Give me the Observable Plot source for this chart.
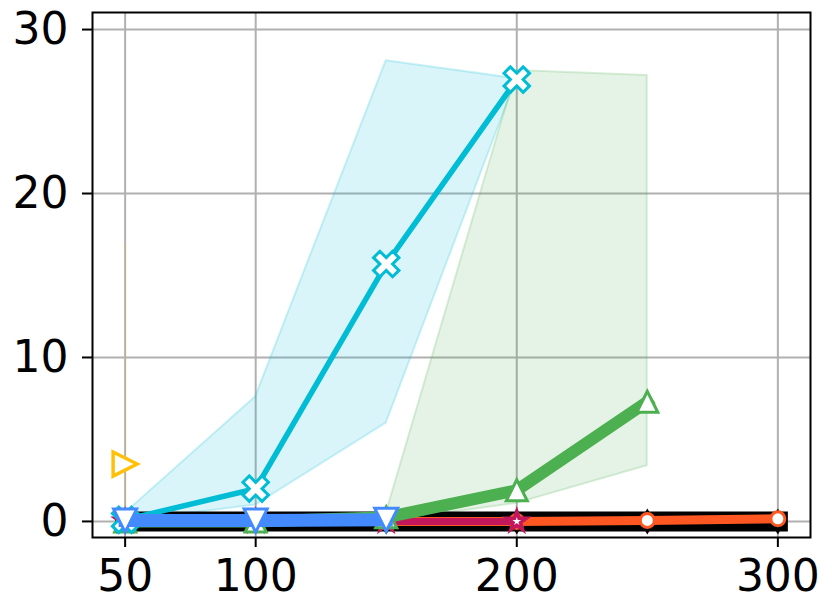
<!DOCTYPE html>
<html>
<head>
<meta charset="utf-8">
<script src="https://cdn.jsdelivr.net/npm/d3@7"></script>
<script src="https://cdn.jsdelivr.net/npm/@observablehq/plot@0.6"></script>
<style>
  html, body { margin: 0; padding: 0; background: #fff; }
  #chart svg { display: block; }
</style>
</head>
<body>
<div id="chart"></div>
<script>
// ---- data ----
const xTicks = [50, 100, 200, 300];
const yTicks = [0, 10, 20, 30];

const blackX = [50, 100, 150, 200, 250, 300];
const blackY = [0, 0, 0, 0, 0, 0];

const orangeX = [50, 100, 150, 200, 250, 300];
const orangeY = [0, 0, 0, 0, 0.06, 0.16];

const crimsonX = [50, 100, 150, 200];
const crimsonY = [0, 0, 0, 0];

const greenX = [50, 100, 150, 200, 250];
const greenY = [0, 0, 0.25, 1.9, 7.3];
const greenLo = [0, 0, 0, 1.1, 3.4];
const greenHi = [0.1, 0.1, 0.5, 27.5, 27.2];

const cyanX = [50, 100, 150, 200];
const cyanY = [0.1, 2.0, 15.7, 26.95];
const cyanLo = [0, 1.0, 6.0, 27.0];
const cyanHi = [0.5, 7.6, 28.1, 27.0];

const blueX = [50, 100, 150];
const blueY = [0.05, 0.05, 0.1];

const amberX = [50];
const amberY = [3.5];
const amberLo = [0];
const amberHi = [17];

// ---- colours ----
const C = {
  black: "#000000", orange: "#FF5722", crimson: "#C2185B",
  green: "#4CAF50", cyan: "#00BCD4", blue: "#448AFF", amber: "#FFC107"
};

// ---- helpers ----
const rows = (xs, ys, lo, hi) => xs.map((x, i) => ({x, y: ys[i], lo: lo ? lo[i] : undefined, hi: hi ? hi[i] : undefined}));

function polySymbol(pointsFn, angleDeg = 0) {
  const a = angleDeg * Math.PI / 180, ca = Math.cos(a), sa = Math.sin(a);
  return {
    draw(ctx, size) {
      const r = Math.sqrt(size / Math.PI);
      pointsFn(r).forEach(([px, py], i) => {
        const x = px * ca - py * sa, y = px * sa + py * ca;
        i ? ctx.lineTo(x, y) : ctx.moveTo(x, y);
      });
      ctx.closePath();
    }
  };
}
// matplotlib-like triangle: half-size r, apex up
const triPts = r => [[0, -r], [-r, r], [r, r]];
const triDown = polySymbol(triPts, 180);
const triUp = polySymbol(triPts, 0);
const triRight = polySymbol(triPts, 90);
// filled X: plus rotated 45 degrees
const plusPts = r => { const L = r, w = r / 3; return [[-w,-L],[w,-L],[w,-w],[L,-w],[L,w],[w,w],[w,L],[-w,L],[-w,w],[-L,w],[-L,-w],[-w,-w]]; };
const xFilled = polySymbol(plusPts, 45);
// thin diamond
const thinDiamond = polySymbol(r => [[0, -r], [r * 0.6, 0], [0, r], [-r * 0.6, 0]]);

const lineOpts = (color, w) => ({x: "x", y: "y", stroke: color, strokeWidth: w, strokeLinecap: "square", strokeLinejoin: "round"});

const black = rows(blackX, blackY);
const orange = rows(orangeX, orangeY);
const crimson = rows(crimsonX, crimsonY);
const green = rows(greenX, greenY, greenLo, greenHi);
const cyan = rows(cyanX, cyanY, cyanLo, cyanHi);
const blue = rows(blueX, blueY);
const amber = rows(amberX, amberY, amberLo, amberHi);

const chart = Plot.plot({
  width: 832,
  height: 615,
  marginLeft: 92,
  marginRight: 22,
  marginTop: 12,
  marginBottom: 78,
  style: {fontFamily: "DejaVu Sans", fontSize: "44px", background: "#fff", overflow: "visible"},
  x: {domain: [37.5, 312.5], label: null},
  y: {domain: [-0.98, 31.04], label: null},
  marks: [
    Plot.gridX(xTicks, {stroke: "#b0b0b0", strokeOpacity: 1, strokeWidth: 2}),
    Plot.gridY(yTicks, {stroke: "#b0b0b0", strokeOpacity: 1, strokeWidth: 2}),
    // shaded bands
    Plot.areaY(cyan, {x: "x", y1: "lo", y2: "hi", fill: C.cyan, fillOpacity: 0.15, stroke: C.cyan, strokeOpacity: 0.2, strokeWidth: 2}),
    Plot.areaY(green, {x: "x", y1: "lo", y2: "hi", fill: C.green, fillOpacity: 0.15, stroke: C.green, strokeOpacity: 0.2, strokeWidth: 2}),
    Plot.ruleX(amber, {x: "x", y1: "lo", y2: "hi", stroke: C.amber, strokeOpacity: 0.12, strokeWidth: 2}),
    // black
    Plot.line(black, lineOpts(C.black, 20)),
    Plot.dot(black, {x: "x", y: "y", symbol: thinDiamond, r: 13, fill: C.black, stroke: "none"}),
    // orange
    Plot.line(orange, lineOpts(C.orange, 9)),
    Plot.dot(orange, {x: "x", y: "y", symbol: "circle", r: 7, fill: "white", stroke: C.orange, strokeWidth: 3}),
    // crimson
    Plot.line(crimson, lineOpts(C.crimson, 7)),
    Plot.dot(crimson, {x: "x", y: "y", symbol: "star", r: 6, fill: "white", stroke: C.crimson, strokeWidth: 3.5}),
    // green
    Plot.line(green, lineOpts(C.green, 12)),
    Plot.dot(green, {x: "x", y: "y", symbol: triUp, r: 10.5, fill: "white", stroke: C.green, strokeWidth: 3}),
    // cyan
    Plot.line(cyan, lineOpts(C.cyan, 5.5)),
    Plot.dot(cyan, {x: "x", y: "y", symbol: xFilled, r: 13.5, fill: "white", stroke: C.cyan, strokeWidth: 3}),
    // blue
    Plot.line(blue, lineOpts(C.blue, 13)),
    Plot.dot(blue, {x: "x", y: "y", symbol: triDown, r: 11.5, fill: "white", stroke: C.blue, strokeWidth: 3}),
    // amber
    Plot.dot(amber, {x: "x", y: "y", symbol: triRight, r: 12, fill: "white", stroke: C.amber, strokeWidth: 3.5}),
    // axes & frame
    Plot.frame({stroke: "black", strokeWidth: 2}),
    Plot.axisX({ticks: xTicks, tickSize: 10, tickPadding: 12, fontSize: 44, strokeWidth: 2, label: null, tickFormat: d => String(d)}),
    Plot.axisY({ticks: yTicks, tickSize: 10, tickPadding: 14, fontSize: 44, strokeWidth: 2, label: null, tickFormat: d => String(d)})
  ]
});
document.getElementById("chart").appendChild(chart);
</script>
</body>
</html>
